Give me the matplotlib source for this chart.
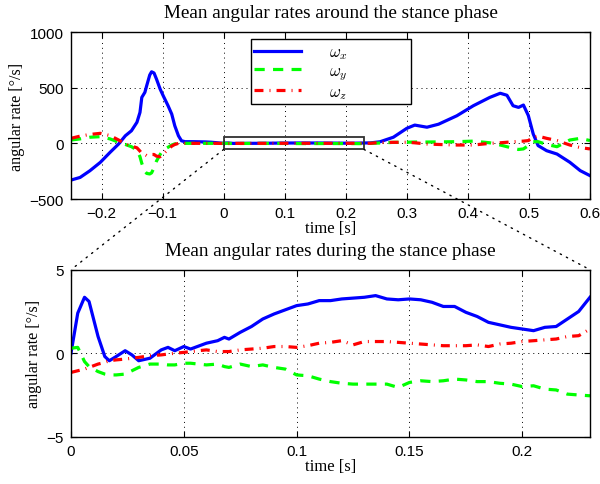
import matplotlib

matplotlib.use("Agg")

import matplotlib.pyplot as plt
from matplotlib.patches import Rectangle, ConnectionPatch
import numpy as np

# angular rates before the stance phase [deg/s]
t_pre = [-0.25, -0.235, -0.219, -0.202, -0.186, -0.172, -0.161, -0.151, -0.142, -0.137,
         -0.134, -0.129, -0.126, -0.121, -0.118, -0.114, -0.110, -0.104, -0.099, -0.091,
         -0.085, -0.080, -0.074, -0.069, -0.063, -0.05, -0.04, -0.03, -0.02, -0.01]
wx_pre = [-330, -306, -246, -171, -81, -6, 68, 113, 189, 278,
          413, 458, 518, 614, 643, 632, 578, 488, 428, 338,
          263, 158, 68, 23, 15, 15, 14, 13, 10, 5]
wy_pre = [30, 40, 55, 60, 40, 10, -10, -30, -60, -120,
          -180, -250, -270, -275, -265, -220, -160, -100, -60, -35,
          -15, -5, 0, 0, 0, 0, 0, 0, 0, 0]
wz_pre = [45, 65, 80, 90, 70, 30, -5, -25, -40, -70,
          -90, -100, -110, -105, -100, -100, -115, -120, -95, -55,
          -25, -10, 0, 0, 0, 0, 0, 0, 0, 0]

# angular rates during the stance phase [deg/s]
t_st = [0, 0.003, 0.006, 0.008, 0.010, 0.012, 0.015, 0.017, 0.020, 0.024,
        0.027, 0.030, 0.035, 0.040, 0.043, 0.046, 0.050, 0.053, 0.060, 0.065,
        0.068, 0.070, 0.075, 0.080, 0.085, 0.090, 0.095, 0.100, 0.105, 0.110,
        0.115, 0.120, 0.125, 0.130, 0.135, 0.140, 0.145, 0.150, 0.155, 0.160,
        0.165, 0.170, 0.175, 0.180, 0.185, 0.190, 0.195, 0.200, 0.205, 0.210,
        0.215, 0.220, 0.225, 0.230]
wx_st = [0.0, 2.4, 3.35, 3.1, 2.05, 1.0, -0.2, -0.45, -0.2, 0.15,
         -0.1, -0.45, -0.3, 0.2, 0.35, 0.15, 0.4, 0.25, 0.6, 0.75,
         0.95, 0.85, 1.25, 1.6, 2.05, 2.35, 2.6, 2.85, 2.95, 3.15,
         3.15, 3.25, 3.3, 3.35, 3.45, 3.25, 3.2, 3.25, 3.2, 3.05,
         2.8, 2.8, 2.45, 2.2, 1.85, 1.7, 1.55, 1.45, 1.35, 1.55,
         1.6, 2.05, 2.5, 3.35]
wy_st = [0.3, 0.35, -0.5, -0.8, -0.95, -1.1, -1.25, -1.3, -1.3, -1.25,
         -1.05, -0.85, -0.65, -0.65, -0.7, -0.7, -0.6, -0.6, -0.7, -0.65,
         -0.8, -0.85, -0.65, -0.8, -0.7, -0.85, -0.95, -1.3, -1.35, -1.55,
         -1.7, -1.8, -1.85, -1.85, -1.85, -1.85, -2.05, -1.75, -1.65, -1.7,
         -1.65, -1.55, -1.6, -1.7, -1.7, -1.8, -1.85, -2.0, -1.95, -2.15,
         -2.2, -2.45, -2.5, -2.55]
wz_st = [-1.15, -1.05, -0.95, -0.85, -0.75, -0.65, -0.55, -0.45, -0.4, -0.35,
         -0.3, -0.25, -0.15, -0.1, -0.05, 0.0, 0.05, 0.1, 0.2, 0.1,
         0.1, 0.1, 0.2, 0.25, 0.3, 0.4, 0.4, 0.35, 0.45, 0.6,
         0.65, 0.75, 0.5, 0.7, 0.7, 0.7, 0.65, 0.6, 0.55, 0.5,
         0.45, 0.45, 0.45, 0.5, 0.4, 0.55, 0.6, 0.7, 0.75, 0.8,
         0.85, 1.0, 1.05, 1.45]

# angular rates after the stance phase [deg/s]
t_post = [0.24, 0.256, 0.278, 0.300, 0.313, 0.333, 0.352, 0.382, 0.409, 0.436,
          0.453, 0.464, 0.474, 0.483, 0.491, 0.499, 0.507, 0.515, 0.529, 0.546,
          0.567, 0.584, 0.600]
wx_post = [4, 14, 55, 135, 164, 145, 172, 248, 338, 413,
           450, 432, 338, 323, 344, 250, 85, -20, -66, -96,
           -170, -245, -290]
wy_post = [0, 3, 9, 10, 12, 12, 13, 15, 20, 5,
           -15, -30, -45, -55, -50, -20, 15, 15, -10, -30,
           30, 45, 25]
wz_post = [0, 8, 9, 10, 5, -6, -10, -15, -15, 0,
           5, 10, 14, 18, 20, 25, 55, 65, 45, 25,
           -15, -38, -50]

labels = [r"$\omega_x$", r"$\omega_y$", r"$\omega_z$"]
colors = ["#0000ff", "#00ff00", "#ff0000"]

top_xticks = [-0.2, -0.1, 0, 0.1, 0.2, 0.3, 0.4, 0.5, 0.6]
top_xticklabels = ["\u22120.2", "\u22120.1", "0", "0.1", "0.2", "0.3", "0.4", "0.5", "0.6"]
top_yticks = [-500, 0, 500, 1000]
top_yticklabels = ["\u2212500", "0", "500", "1000"]
bot_xticks = [0, 0.05, 0.1, 0.15, 0.2]
bot_xticklabels = ["0", "0.05", "0.1", "0.15", "0.2"]
bot_yticks = [-5, 0, 5]
bot_yticklabels = ["\u22125", "0", "5"]

plt.rcParams["mathtext.fontset"] = "cm"
serif = "Liberation Serif"
sans = "Liberation Sans"

t_all = np.concatenate([t_pre, t_st, t_post])
top_series = [
    np.concatenate([wx_pre, wx_st, wx_post]),
    np.concatenate([wy_pre, wy_st, wy_post]),
    np.concatenate([wz_pre, wz_st, wz_post]),
]
bot_series = [wx_st, wy_st, wz_st]
styles = [
    dict(linestyle="-"),
    dict(linestyle=(0, (3.2, 2.6))),
    dict(linestyle=(0, (2.8, 1.9, 0.3, 1.9))),
]

fig = plt.figure(figsize=(6.0, 4.85), dpi=100)
ax1 = fig.add_axes([0.1183, 0.5876, 0.865, 0.3443])
ax2 = fig.add_axes([0.1183, 0.0975, 0.865, 0.3443])

for ax in (ax1, ax2):
    ax.grid(True, linestyle=(0, (1, 4)), color="black", linewidth=0.7)
    ax.tick_params(direction="in", top=True, right=True, labelsize=11, length=4, pad=5)
    for spine in ax.spines.values():
        spine.set_linewidth(1.0)

handles = []
for y, c, st, lab in zip(top_series, colors, styles, labels):
    (h,) = ax1.plot(t_all, y, color=c, linewidth=2.3, label=lab, **st)
    handles.append(h)
for y, c, st in zip(bot_series, colors, styles):
    ax2.plot(t_st, y, color=c, linewidth=2.3, **st)

ax1.set_xlim(-0.25, 0.6)
ax1.set_ylim(-500, 1000)
ax1.set_xticks(top_xticks)
ax1.set_xticklabels(top_xticklabels, family=sans)
ax1.set_yticks(top_yticks)
ax1.set_yticklabels(top_yticklabels, family=sans)

ax2.set_xlim(0, 0.23)
ax2.set_ylim(-5, 5)
ax2.set_xticks(bot_xticks)
ax2.set_xticklabels(bot_xticklabels, family=sans)
ax2.set_yticks(bot_yticks)
ax2.set_yticklabels(bot_yticklabels, family=sans)

ax1.set_title("Mean angular rates around the stance phase", family=serif, fontsize=13.8, pad=10.5)
ax2.set_title("Mean angular rates during the stance phase", family=serif, fontsize=13.8, pad=10.5)
for ax in (ax1, ax2):
    ax.set_xlabel("time [s]", family=serif, fontsize=12, labelpad=0)
    ax.set_ylabel("angular rate [\u00b0/s]", family=serif, fontsize=11.6, labelpad=3)

# zoom box and connector lines
ax1.add_patch(Rectangle((0, -55), 0.23, 110, fill=False, edgecolor="#303030",
                        linewidth=1.3, zorder=5))
for xa, xb in ((0, 0), (0.23, 0.23)):
    con = ConnectionPatch(xyA=(xa, -55), coordsA=ax1.transData,
                          xyB=(xb, 5), coordsB=ax2.transData,
                          linestyle=(0, (1, 4)), color="black", linewidth=1.0)
    fig.add_artist(con)

leg = ax1.legend(handles=handles, loc="upper left",
                 bbox_to_anchor=(0.347, 0.3, 0.308, 0.658), mode="expand",
                 borderaxespad=0, fontsize=12, handlelength=2.8, handletextpad=1.7,
                 labelspacing=0.0, borderpad=0.2, fancybox=False, framealpha=1,
                 edgecolor="black")
leg.get_frame().set_linewidth(1.0)
leg.set_zorder(10)

fig.savefig("out.png", dpi=100)
